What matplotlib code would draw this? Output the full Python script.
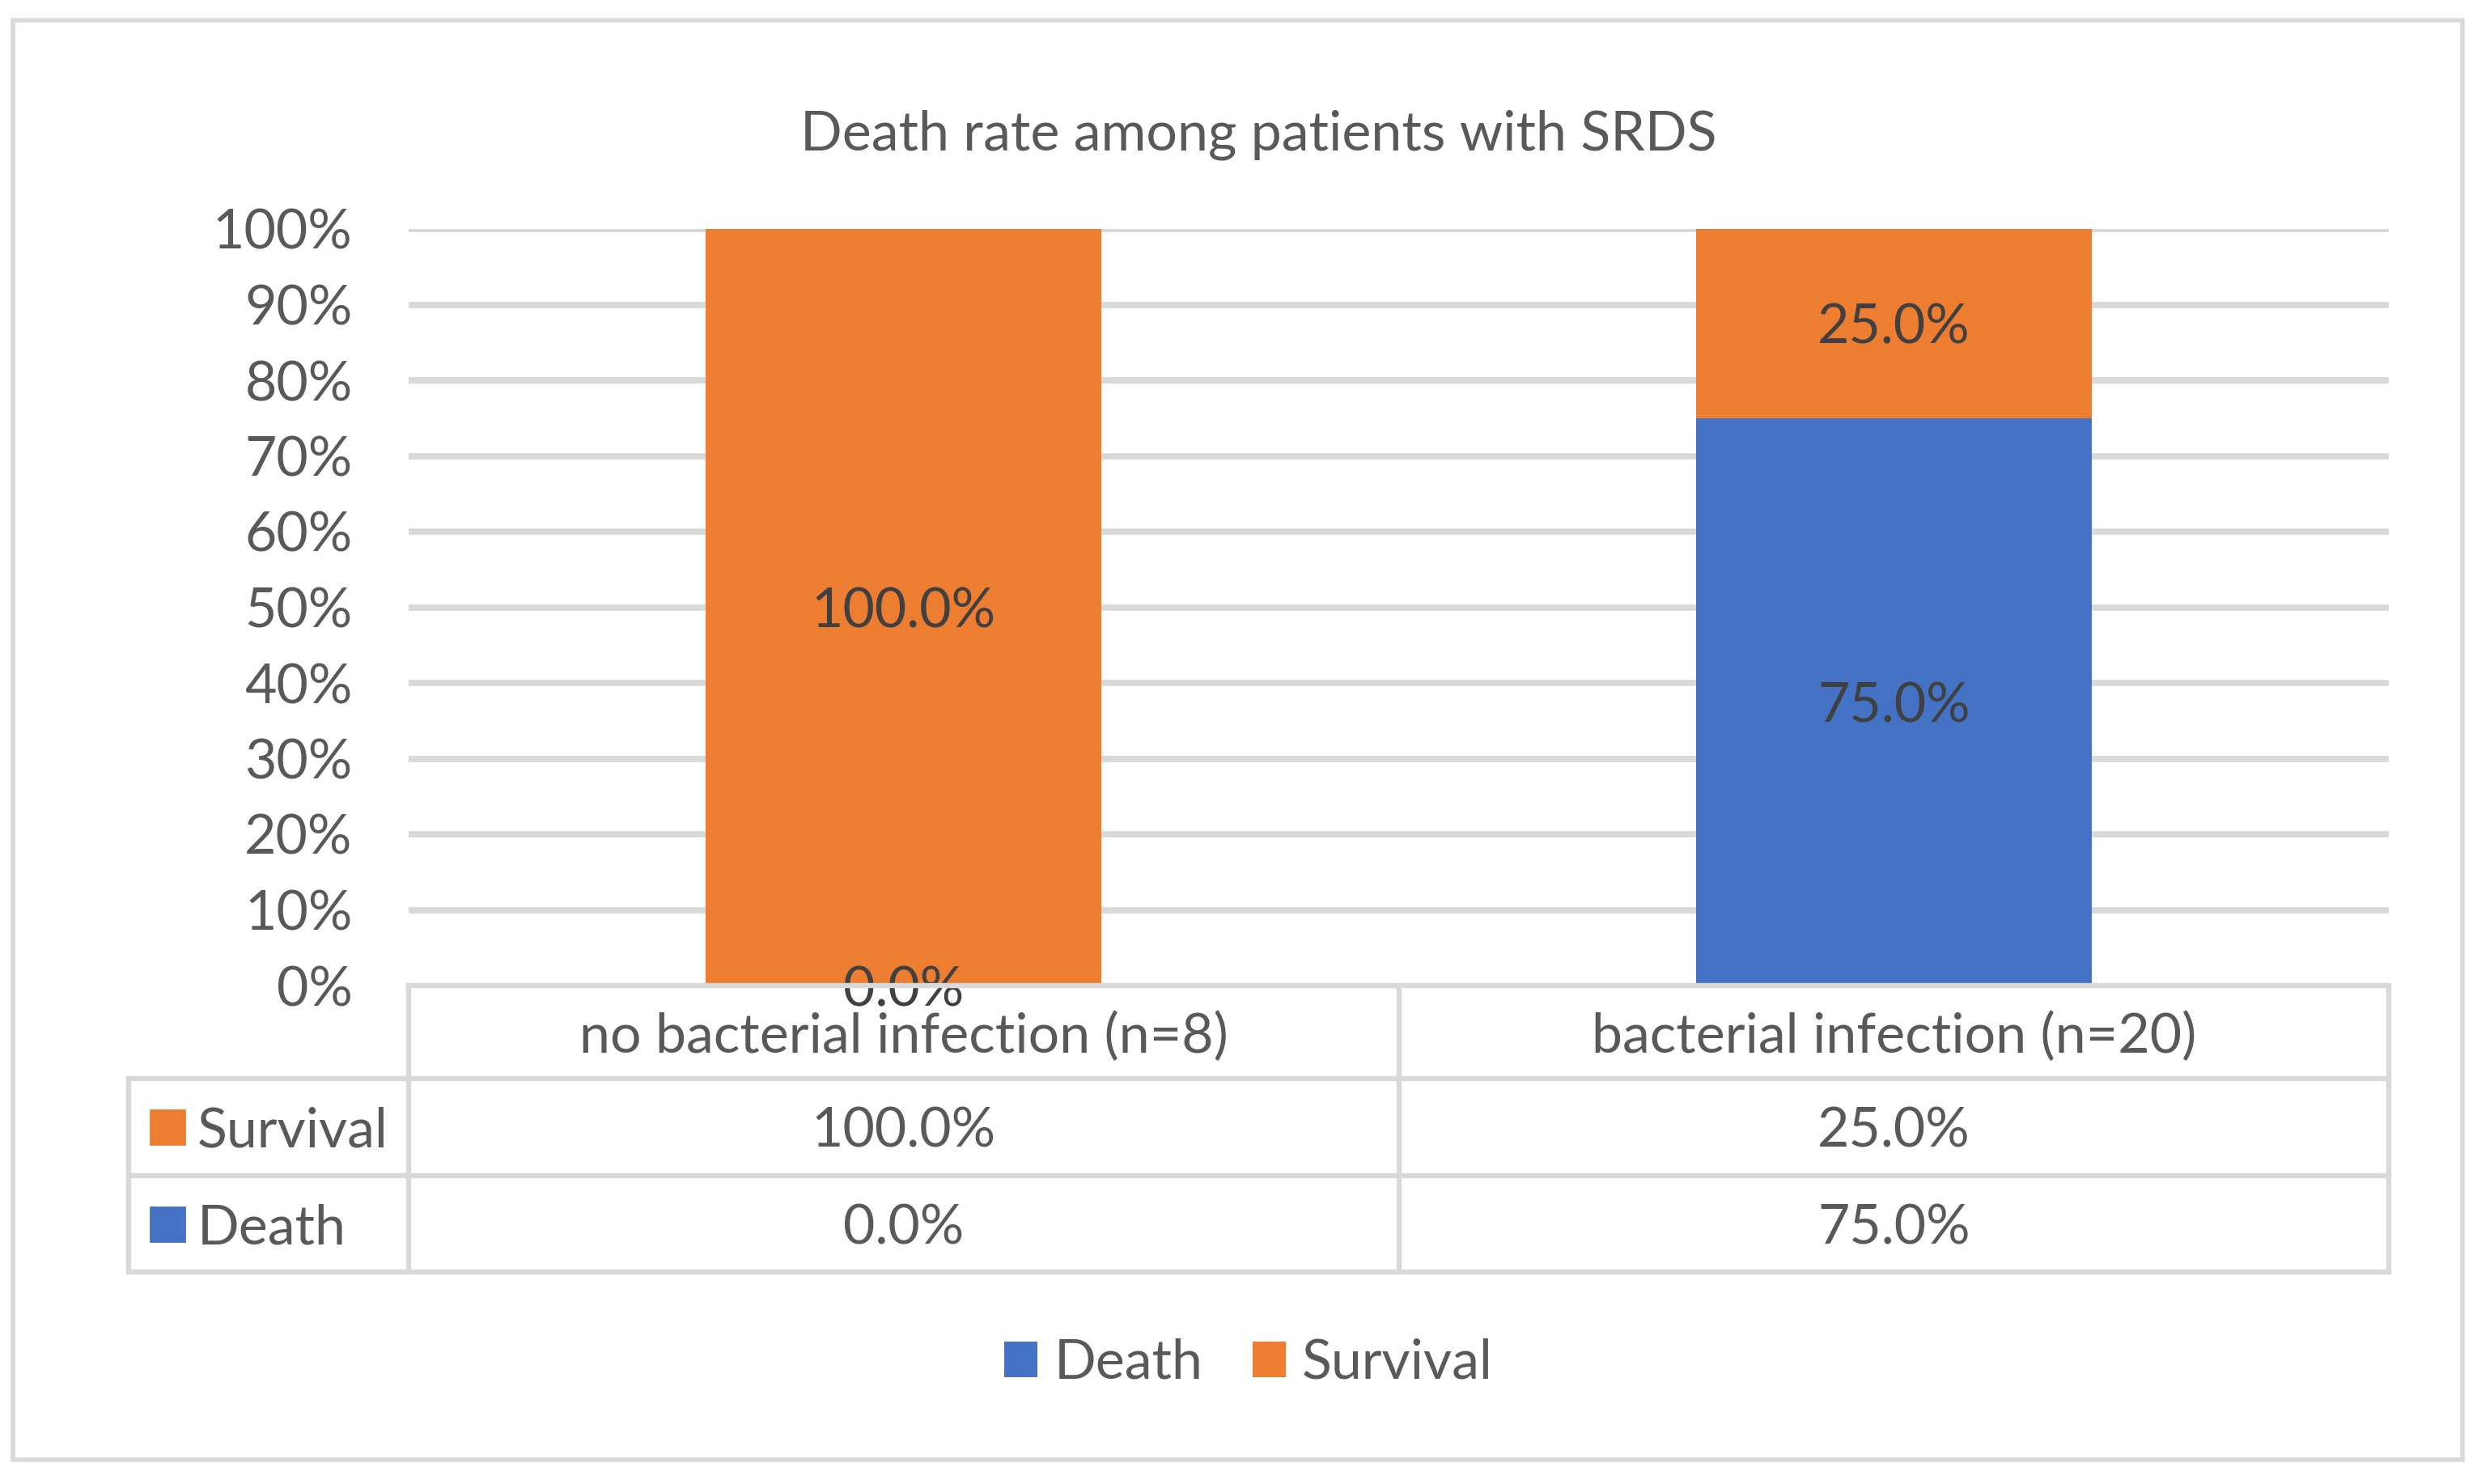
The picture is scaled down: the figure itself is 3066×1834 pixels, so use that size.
import numpy as np
import matplotlib
matplotlib.use("Agg")
import matplotlib.pyplot as plt
from matplotlib.patches import Rectangle
from matplotlib.lines import Line2D

plt.rcParams['font.family'] = ['Lato', 'DejaVu Sans']

# data
categories = ['no bacterial infection (n=8)', 'bacterial infection (n=20)']
series_names = ['Death', 'Survival']
death = [0.0, 75.0]
survival = [100.0, 25.0]
yticks = [0, 10, 20, 30, 40, 50, 60, 70, 80, 90, 100]
title = 'Death rate among patients with SRDS'

BLUE = '#4472C4'
ORANGE = '#ED7D31'
GRID = '#D9D9D9'
TXT = '#595959'
LBL = '#404040'
FS = 24.5

W, H = 3066, 1834
DPI = 200
fig = plt.figure(figsize=(W / DPI, H / DPI), dpi=DPI)


def fx(px):
    return px / W


def fy(py):
    return 1 - py / H


# plot area in pixels
left, right, top, bottom = 505, 2952, 283, 1218
ax = fig.add_axes([fx(left), fy(bottom), fx(right - left), (bottom - top) / H])

x = np.arange(len(categories))
ax.bar(x, death, width=0.4, color=BLUE, zorder=3, label=series_names[0])
ax.bar(x, survival, width=0.4, bottom=death, color=ORANGE, zorder=3, label=series_names[1])

ax.set_xlim(-0.5, len(categories) - 0.5)
ax.set_ylim(0, 100)
ax.set_yticks(yticks)
ax.set_yticklabels([f'{t}%' for t in yticks], color=TXT, fontsize=FS)
ax.tick_params(axis='y', length=0, pad=25)
ax.set_xticks([])
for s in ax.spines.values():
    s.set_visible(False)
for t in yticks[1:]:
    ax.axhline(t, color=GRID, lw=2.8, zorder=1)

# data labels
for i in range(len(categories)):
    ax.text(x[i], death[i] / 2, f'{death[i]:.1f}%', ha='center', va='center_baseline',
            color=LBL, fontsize=FS, zorder=5)
    ax.text(x[i], death[i] + survival[i] / 2, f'{survival[i]:.1f}%', ha='center',
            va='center_baseline', color=LBL, fontsize=FS, zorder=5)

# data table under the plot
tbl_left = 159
rows_y = [1218, 1333, 1453, 1572]
lw = 2.3
lines = [
    ((left, right), (rows_y[0], rows_y[0])),
    ((tbl_left, right), (rows_y[1], rows_y[1])),
    ((tbl_left, right), (rows_y[2], rows_y[2])),
    ((tbl_left, right), (rows_y[3], rows_y[3])),
    ((tbl_left, tbl_left), (rows_y[1], rows_y[3])),
]
for k in range(len(categories) + 1):
    xc = left + k * (right - left) / len(categories)
    lines.append(((xc, xc), (rows_y[0], rows_y[3])))
for (xs, ys) in lines:
    fig.add_artist(Line2D([fx(xs[0]), fx(xs[1])], [fy(ys[0]), fy(ys[1])],
                          color=GRID, lw=lw, zorder=2))

row_centers = [(rows_y[0] + rows_y[1]) / 2, (rows_y[1] + rows_y[2]) / 2, (rows_y[2] + rows_y[3]) / 2]
for i, cat in enumerate(categories):
    xc = fx(left + (i + 0.5) * (right - left) / len(categories))
    fig.text(xc, fy(row_centers[0]), cat, ha='center', va='center_baseline', color=TXT, fontsize=FS)
    fig.text(xc, fy(row_centers[1]), f'{survival[i]:.1f}%', ha='center', va='center_baseline',
             color=TXT, fontsize=FS)
    fig.text(xc, fy(row_centers[2]), f'{death[i]:.1f}%', ha='center', va='center_baseline',
             color=TXT, fontsize=FS)

# row headers with legend keys
for name, color, yc in [(series_names[1], ORANGE, row_centers[1]), (series_names[0], BLUE, row_centers[2])]:
    fig.add_artist(Rectangle((fx(186), fy(yc + 21)), fx(42), 42 / H, color=color,
                             transform=fig.transFigure))
    fig.text(fx(244), fy(yc), name, ha='left', va='center_baseline', color=TXT, fontsize=FS)

# title
fig.text(fx(1555), fy(160), title, ha='center', va='center_baseline', color=TXT, fontsize=FS)

# legend
leg = fig.legend(loc='center', bbox_to_anchor=(fx(1543), fy(1685)), ncol=2, frameon=False,
                 fontsize=FS, labelcolor=TXT, handlelength=0.6, handleheight=0.6,
                 handletextpad=0.3, columnspacing=0.9)

# outer chart border
fig.add_artist(Rectangle((fx(16), fy(1804)), fx(3043 - 16), (1804 - 25) / H, fill=False,
                         edgecolor=GRID, lw=2.0, transform=fig.transFigure))

fig.savefig('out.png', dpi=DPI)
